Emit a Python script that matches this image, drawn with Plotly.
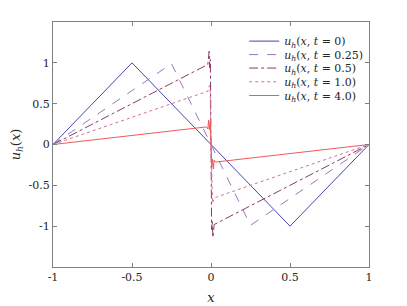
import plotly.graph_objects as go

# Data
x_t0 = [-1, -0.5, 0.5, 1]
u_t0 = [0, 1, -1, 0]

x_t025 = [-1, -0.25, 0.25, 1]
u_t025 = [0, 0.99, -0.99, 0]

x_t05 = [-1, -0.02, -0.012, -0.008, -0.004, 0, 0.004, 0.008, 0.012, 0.02, 1]
u_t05 = [0, 0.98, 1.14, 0.94, 1.04, 0, -1.04, -0.94, -1.14, -0.98, 0]

x_t1 = [-1, -0.02, -0.01, -0.005, 0, 0.005, 0.01, 0.02, 1]
u_t1 = [0, 0.653, 0.72, 0.64, 0, -0.64, -0.72, -0.653, 0]

x_t4 = [-1, -0.03, -0.02, -0.015, -0.01, -0.005, 0, 0.005, 0.01, 0.015, 0.02, 0.03, 1]
u_t4 = [0, 0.215, 0.19, 0.3, 0.18, 0.28, 0, -0.28, -0.18, -0.3, -0.19, -0.215, 0]

labels = ["0", "0.25", "0.5", "1.0", "4.0"]
xticks = [-1, -0.5, 0, 0.5, 1]
xticklabels = ["-1", "-0.5", "0", "0.5", "1"]
yticks = [-1, -0.5, 0, 0.5, 1]
yticklabels = ["-1", "-0.5", "0", "0.5", "1"]

series = [
    (x_t0, u_t0, "#4646aa", "solid"),
    (x_t025, u_t025, "#9478bc", "dash"),
    (x_t05, u_t05, "#8a3a68", "dashdot"),
    (x_t1, u_t1, "#d4719a", "dot"),
    (x_t4, u_t4, "#f05a5a", "solid"),
]

FONT = "DejaVu Serif, Liberation Serif, serif"
legend_y = [0.922, 0.867, 0.812, 0.756, 0.700]
legend_names = ["legend", "legend2", "legend3", "legend4", "legend5"]

fig = go.Figure()
legend_cfg = {}
for i, ((xs, ys, col, dash), lab) in enumerate(zip(series, labels)):
    lname = legend_names[i]
    fig.add_trace(go.Scatter(
        x=xs, y=ys, mode="lines",
        line=dict(color=col, width=1, dash=dash),
        name=f"<i>u<sub>h</sub></i>(<i>x</i>, <i>t</i> = {lab})",
        legend=lname, legendgroup=f"g{i}", showlegend=True,
    ))
    legend_cfg[lname] = dict(
        x=0.605, y=legend_y[i], xanchor="left", yanchor="middle",
        bgcolor="rgba(0,0,0,0)", font=dict(family=FONT, size=11, color="#262626"),
        itemwidth=30, borderwidth=0,
    )

axis_common = dict(
    showgrid=False, zeroline=False, showline=True, mirror="ticks",
    linecolor="#808080", linewidth=1, ticks="inside", ticklen=4,
    tickcolor="#808080", tickfont=dict(family=FONT, size=11, color="#262626"),
    automargin=False,
)

# The page body has an 8px margin, so the figure is sized to fit the window.
fig.update_layout(
    width=399, height=298,
    margin=dict(l=45, r=38, t=14, b=39),
    paper_bgcolor="white", plot_bgcolor="white",
    font=dict(family=FONT, size=11, color="#262626"),
    xaxis=dict(range=[-1, 1], tickvals=xticks, ticktext=xticklabels,
               title=dict(text="<i>x</i>", font=dict(family=FONT, size=13), standoff=9),
               **axis_common),
    yaxis=dict(range=[-1.5, 1.5], tickvals=yticks, ticktext=yticklabels,
               title=dict(text="<i>u<sub>h</sub></i>(<i>x</i>)", font=dict(family=FONT, size=13), standoff=5),
               **axis_common),
    showlegend=True,
)
fig.update_layout(legend_cfg)

fig.write_html("out.html")
